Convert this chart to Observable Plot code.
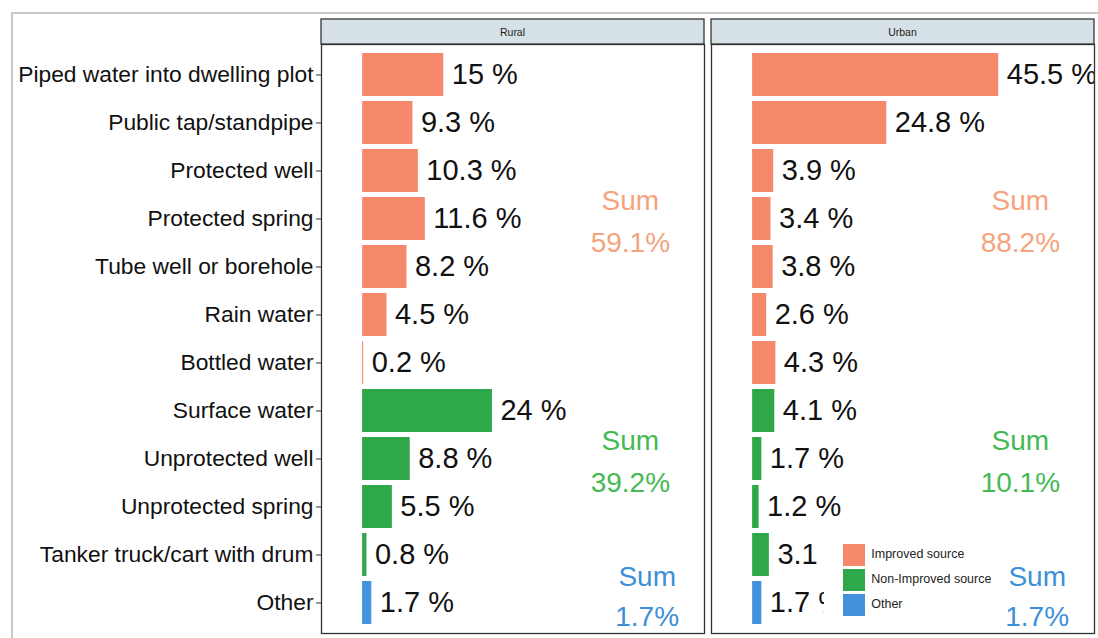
<!DOCTYPE html>
<html>
<head>
<meta charset="utf-8">
<script src="https://cdn.jsdelivr.net/npm/d3@7"></script>
<script src="https://cdn.jsdelivr.net/npm/@observablehq/plot@0.6"></script>
<style>
  html, body { margin: 0; padding: 0; background: #fff; }
  #wrap { position: relative; width: 1098px; height: 638px; overflow: hidden; font-family: "Liberation Sans", Arial, sans-serif; }
  #outer { position: absolute; left: 11px; top: 12px; right: -5px; bottom: -5px; border-top: 2px solid #c9c9c9; border-left: 2px solid #c9c9c9; }
  #chart { position: absolute; left: 0; top: 0; }
  #legend { position: absolute; left: 824px; top: 541px; background: #fff; padding: 3px 4px 4px 19px; }
  #legend div > div { margin-bottom: 2px; }
</style>
</head>
<body>
<div id="wrap">
  <div id="outer"></div>
  <div id="chart"></div>
  <div id="legend"></div>
</div>
<script>
const categories = [
  "Piped water into dwelling plot",
  "Public tap/standpipe",
  "Protected well",
  "Protected spring",
  "Tube well or borehole",
  "Rain water",
  "Bottled water",
  "Surface water",
  "Unprotected well",
  "Unprotected spring",
  "Tanker truck/cart with drum",
  "Other"
];
const groupOf = [
  "Improved source", "Improved source", "Improved source", "Improved source",
  "Improved source", "Improved source", "Improved source",
  "Non-Improved source", "Non-Improved source", "Non-Improved source", "Non-Improved source",
  "Other"
];
const panels = ["Rural", "Urban"];
const rural = [15, 9.3, 10.3, 11.6, 8.2, 4.5, 0.2, 24, 8.8, 5.5, 0.8, 1.7];
const urban = [45.5, 24.8, 3.9, 3.4, 3.8, 2.6, 4.3, 4.1, 1.7, 1.2, 3.1, 1.7];

const groups = ["Improved source", "Non-Improved source", "Other"];
const barColors = ["#F6896C", "#2EA84A", "#4292DC"];
const sumColors = ["#F6A37D", "#45B953", "#3D8FD7"];
const sumRural = ["59.1%", "39.2%", "1.7%"];
const sumUrban = ["88.2%", "10.1%", "1.7%"];

const table = [];
panels.forEach((p, pi) => {
  const vals = pi === 0 ? rural : urban;
  categories.forEach((c, i) => table.push({panel: p, category: c, value: vals[i], group: groupOf[i]}));
});

// Sum labels anchored at the middle row of each group
const sums = [];
panels.forEach((p, pi) => {
  const labs = pi === 0 ? sumRural : sumUrban;
  groups.forEach((g, gi) => {
    const idx = groupOf.map((d, i) => d === g ? i : -1).filter(i => i >= 0);
    const mid = Math.floor((idx[0] + idx[idx.length - 1]) / 2);
    sums.push({panel: p, group: g, row: categories[mid], label: labs[gi], color: sumColors[gi]});
  });
});

const plot = Plot.plot({
  width: 1098,
  height: 638,
  marginLeft: 321,
  marginRight: 4,
  marginTop: 44,
  marginBottom: 5,
  style: {fontFamily: "'Liberation Sans', Arial, sans-serif", fontSize: "22px", background: "transparent", overflow: "visible"},
  fx: {domain: panels, axis: null, paddingInner: 0.018, paddingOuter: 0},
  x: {domain: [-7.6, 63.2], axis: null},
  y: {domain: categories, paddingInner: 0.1, paddingOuter: 0.128, label: null},
  color: {domain: groups, range: barColors},
  marks: [
    Plot.barX(table, {fx: "panel", y: "category", x: "value", fill: "group"}),
    Plot.text(table, {fx: "panel", y: "category", x: "value", text: d => d.value + " %", dx: 8, textAnchor: "start", fontSize: 29, fill: "#111", clip: true}),
    Plot.text(sums.filter(d => d.group !== "Other"), {fx: "panel", y: "row", x: 49.5, dy: -1, text: d => "Sum\n" + d.label, fill: d => d.color, fontSize: 28, lineHeight: 1.5, textAnchor: "middle"}),
    Plot.text(sums.filter(d => d.group === "Other"), {fx: "panel", y: "row", x: 52.6, dy: -10, text: d => "Sum\n" + d.label, fill: d => d.color, fontSize: 28, lineHeight: 1.45, textAnchor: "middle"}),
    Plot.frame({stroke: "#333", strokeWidth: 1.3}),
    Plot.axisY({fontSize: 22.8, tickSize: 5, tickPadding: 3, stroke: "#333", fill: "#111", label: null})
  ]
});
document.getElementById("chart").appendChild(plot);

// facet strips on top of each panel, placed with the fx scale
const fx = plot.scale("fx");
const svg = d3.select(plot);
panels.forEach(p => {
  const x0 = fx.apply(p);
  const w = fx.bandwidth;
  svg.append("rect").attr("x", x0).attr("y", 19).attr("width", w).attr("height", 25)
    .attr("fill", "#D5E1E7").attr("stroke", "#333").attr("stroke-width", 1.3);
  svg.append("text").attr("x", x0 + w / 2).attr("y", 36).attr("text-anchor", "middle")
    .attr("font-size", 10.5).attr("fill", "#222").text(p);
});

const leg = plot.legend("color", {legend: "swatches", columns: 1, swatchSize: 22, style: {fontSize: "12.5px", fontFamily: "'Liberation Sans', Arial, sans-serif", color: "#222"}});
document.getElementById("legend").appendChild(leg);
</script>
</body>
</html>
